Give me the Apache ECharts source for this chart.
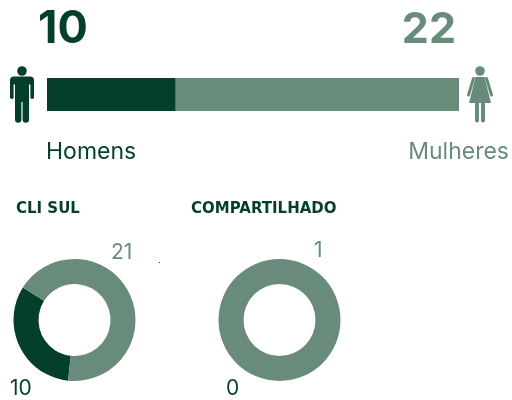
<!DOCTYPE html>
<html>
<head>
<meta charset="utf-8">
<style>
  html, body { margin: 0; padding: 0; background: #fff; }
  #main { width: 512px; height: 400px; }
</style>
<script src="https://cdn.jsdelivr.net/npm/echarts@6/dist/echarts.min.js"></script>
</head>
<body>
<div id="main"></div>
<script>
const colorDark = '#033f2a';
const colorLight = '#698b7b';
const font = 'Inter';

const genders = ['Homens', 'Mulheres'];
const genderValues = [10, 22];
const donutTitles = ['CLI SUL', 'COMPARTILHADO'];
const cliSul = [10, 21];
const compartilhado = [0, 1];

function txt(text, x, y, size, weight, color, align, family) {
  return {
    type: 'text', x: x, y: y, silent: true,
    style: { text: String(text), fill: color, font: weight + ' ' + size + 'px ' + (family || font), textAlign: align || 'left', textVerticalAlign: 'bottom' }
  };
}

function stroke(x1, y1, x2, y2, w, color) {
  return { type: 'line', silent: true, shape: { x1: x1, y1: y1, x2: x2, y2: y2 }, style: { stroke: color, lineWidth: w, lineCap: 'round' } };
}

// icones feitos com formas simples
const manIcon = [
  { type: 'circle', silent: true, shape: { cx: 22, cy: 71, r: 4.8 }, style: { fill: colorDark } },
  { type: 'rect', silent: true, shape: { x: 10, y: 76.5, width: 24, height: 8, r: [4, 4, 0, 0] }, style: { fill: colorDark } },
  { type: 'rect', silent: true, shape: { x: 15, y: 80, width: 14, height: 22 }, style: { fill: colorDark } },
  stroke(11.8, 82, 11.8, 97.2, 3.6, colorDark),
  stroke(32.2, 82, 32.2, 97.2, 3.6, colorDark),
  stroke(18.2, 100, 18.2, 119.5, 6.4, colorDark),
  stroke(25.8, 100, 25.8, 119.5, 6.4, colorDark)
];
const womanIcon = [
  { type: 'circle', silent: true, shape: { cx: 480, cy: 71, r: 4.8 }, style: { fill: colorLight } },
  { type: 'polygon', silent: true, shape: { points: [[475.5, 77], [484.5, 77], [491, 103], [469, 103]] }, style: { fill: colorLight } },
  stroke(473.5, 78.5, 468.5, 95, 3, colorLight),
  stroke(486.5, 78.5, 491.5, 95, 3, colorLight),
  stroke(477, 102, 477, 120.5, 4, colorLight),
  stroke(483, 102, 483, 120.5, 4, colorLight)
];

function donut(values, cx, startAngle) {
  return {
    type: 'pie',
    center: [cx, 320],
    radius: [36, 61],
    startAngle: startAngle,
    silent: true,
    label: { show: false },
    labelLine: { show: false },
    itemStyle: { borderWidth: 0 },
    data: values.map((v, i) => ({ value: v, itemStyle: { color: i === 0 ? colorDark : colorLight } }))
  };
}

const chart = echarts.init(document.getElementById('main'), null, { renderer: 'canvas' });
chart.setOption({
  animation: false,
  backgroundColor: '#fff',
  grid: { left: 47, top: 78, width: 412, height: 33 },
  xAxis: { type: 'value', min: 0, max: genderValues[0] + genderValues[1], show: false },
  yAxis: { type: 'category', data: ['total'], show: false },
  series: [
    { type: 'bar', stack: 'g', barWidth: 33, silent: true, data: [genderValues[0]], itemStyle: { color: colorDark } },
    { type: 'bar', stack: 'g', barWidth: 33, silent: true, data: [genderValues[1]], itemStyle: { color: colorLight } },
    donut(cliSul, 74.5, 264),
    donut(compartilhado, 279.5, 90)
  ],
  graphic: [
    txt(genderValues[0], 38, 52, 45, 700, colorDark),
    txt(genderValues[1], 456, 52, 43, 700, colorLight, 'right'),
    txt(genders[0], 46, 164, 23, 400, colorDark),
    txt(genders[1], 509, 164, 23, 400, colorLight, 'right'),
    txt(donutTitles[0], 16, 217, 15, 700, colorDark, 'left', 'DejaVu Sans'),
    txt(donutTitles[1], 191, 217, 15, 700, colorDark, 'left', 'DejaVu Sans'),
    txt(cliSul[1], 111, 263, 21, 400, colorLight),
    txt(compartilhado[1], 314, 261, 21, 400, colorLight),
    txt(cliSul[0], 10, 399, 21, 400, colorDark),
    txt(compartilhado[0], 226, 399, 21, 400, colorDark),
    { type: 'rect', silent: true, shape: { x: 159, y: 262, width: 1, height: 1 }, style: { fill: '#333' } }
  ].concat(manIcon, womanIcon)
});
window.addEventListener('resize', chart.resize);
</script>
</body>
</html>
